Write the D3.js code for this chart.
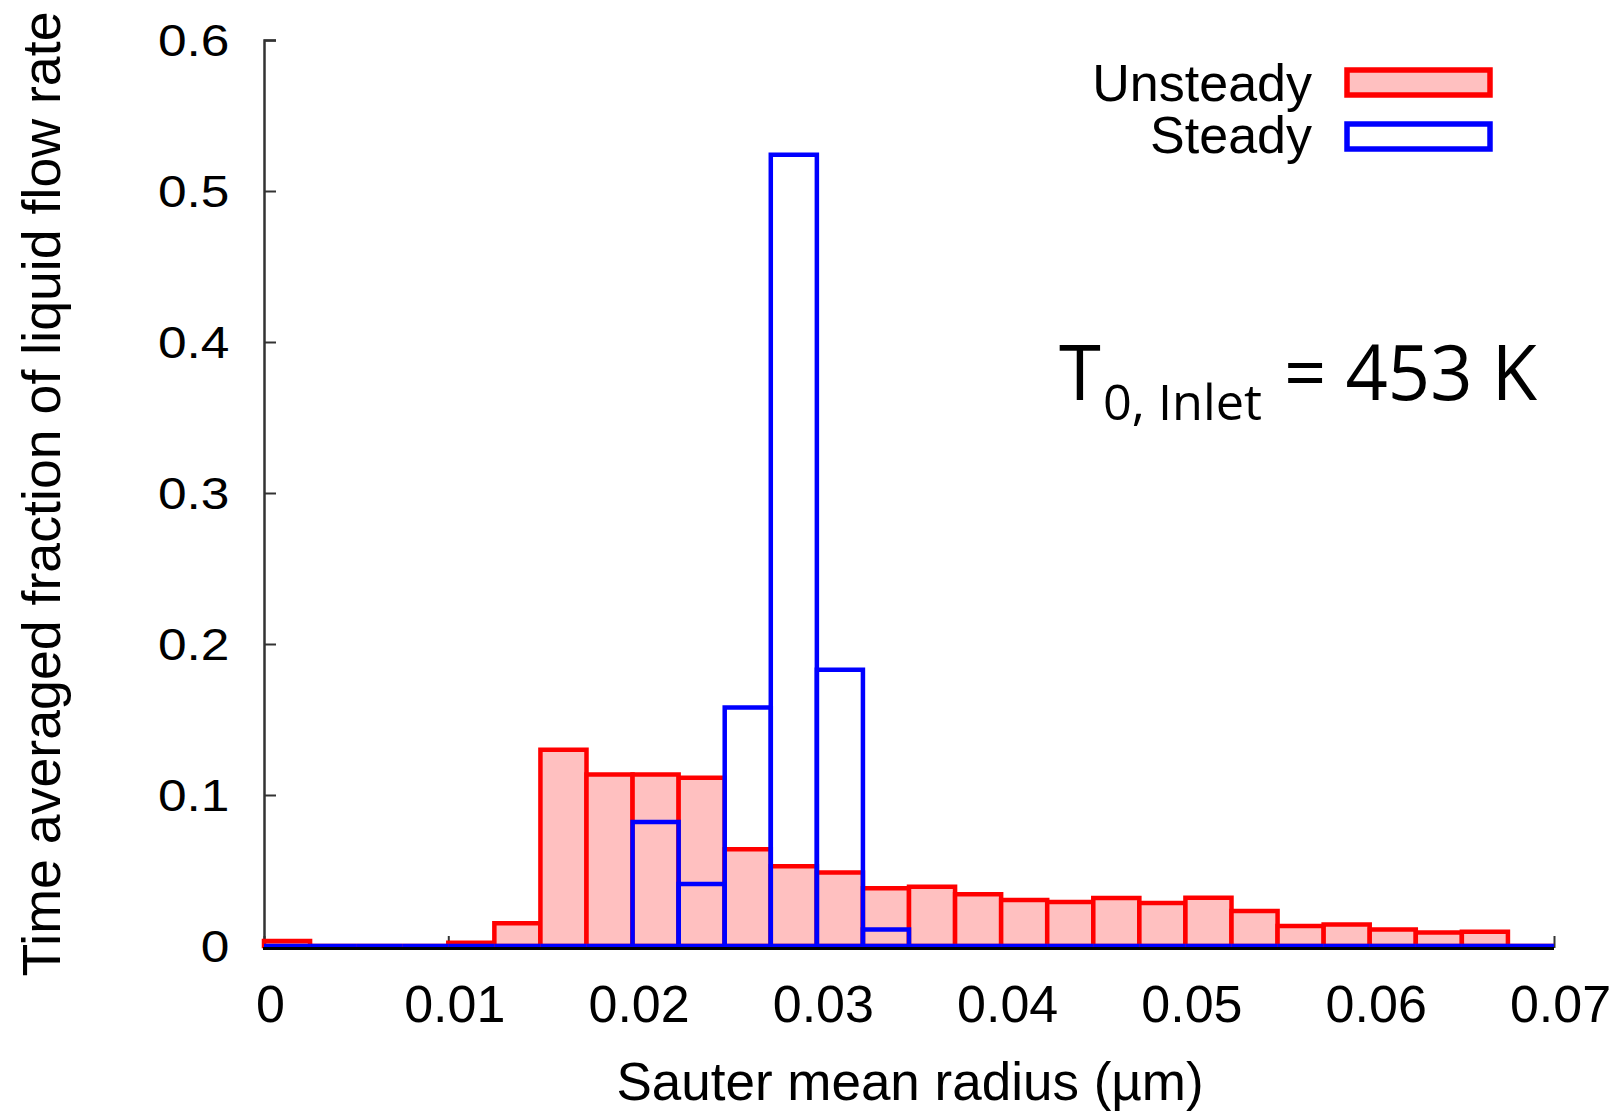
<!DOCTYPE html>
<html><head><meta charset="utf-8">
<script src="https://cdn.jsdelivr.net/npm/d3@7"></script>
<style>body{margin:0;background:#fff}svg{display:block}</style>
</head><body>
<svg id="c" width="1621" height="1112"></svg>
<script>
const binStarts = [0,0.0025,0.005,0.0075,0.01,0.0125,0.015,0.0175,0.02,0.0225,0.025,0.0275,0.03,0.0325,0.035,0.0375,0.04,0.0425,0.045,0.0475,0.05,0.0525,0.055,0.0575,0.06,0.0625,0.065,0.0675];
const binWidth = 0.0025;
const unsteady = [0.0033,0,0,0,0.0022,0.015,0.130,0.1135,0.1135,0.1115,0.064,0.0528,0.0486,0.0382,0.0393,0.0342,0.0305,0.0291,0.0318,0.0285,0.032,0.0232,0.0132,0.0143,0.011,0.009,0.0095,0];
const steady = [0,0,0,0,0,0,0,0,0.0821,0.041,0.158,0.524,0.183,0.011,0,0,0,0,0,0,0,0,0,0,0,0,0,0];
const xTicks = [0,0.01,0.02,0.03,0.04,0.05,0.06,0.07];
const yTicks = [0,0.1,0.2,0.3,0.4,0.5,0.6];
const seriesNames = ["Unsteady","Steady"];

const svg = d3.select("#c");
const x = d3.scaleLinear().domain([0,0.07]).range([264,1554]);
const y = d3.scaleLinear().domain([0,0.6]).range([946,40]);
const font = "'Liberation Sans', Arial, Helvetica, sans-serif";

// y axis
const ya = svg.append("g").attr("transform",`translate(${x(0)},0)`)
  .call(d3.axisLeft(y).tickValues(yTicks).tickSize(-12).tickFormat(d3.format("")));
ya.select(".domain").attr("stroke","#333").attr("stroke-width",2.5);
ya.selectAll(".tick line").attr("stroke","#333").attr("stroke-width",2);
ya.selectAll(".tick text").attr("x",-29.5).attr("dy",null).attr("y",15)
  .attr("transform","scale(1.17,1)")
  .attr("font-family",font).attr("font-size",44).attr("fill","#000");

// x axis ticks (under bars)
const xa = svg.append("g").attr("transform",`translate(0,${y(0)+2})`)
  .call(d3.axisBottom(x).tickValues(xTicks).tickSize(-12).tickFormat(d => d===0?"0":d3.format(".2f")(d)));
xa.select(".domain").remove();
xa.selectAll(".tick line").attr("stroke","#333").attr("stroke-width",2);
xa.selectAll(".tick text").attr("dy",null).attr("y",74).attr("x",6)
  .attr("font-family",font).attr("font-size",52).attr("fill","#000");

function barPath(x0, v){
  const a = x(x0), b = x(x0+binWidth), y0 = y(0), y1 = y(v);
  return `M${a},${y0}V${y1}H${b}V${y0}Z`;
}
svg.append("g").selectAll("path").data(binStarts).join("path")
  .attr("d",(d,i)=>barPath(d,unsteady[i]))
  .attr("fill","#ffc0c0").attr("stroke","#ff0000").attr("stroke-width",4.5)
  .attr("stroke-linejoin","miter");
svg.append("g").selectAll("path").data(binStarts).join("path")
  .attr("d",(d,i)=>barPath(d,steady[i]))
  .attr("fill","none").attr("stroke","#0000ff").attr("stroke-width",4.5)
  .attr("stroke-linejoin","miter");

// bottom axis line
svg.append("line").attr("x1",x(0)-1).attr("x2",x(0.07)).attr("y1",y(0)+2.5).attr("y2",y(0)+2.5)
  .attr("stroke","#000").attr("stroke-width",3);

// axis titles
svg.append("text").attr("transform",`translate(60,494) rotate(-90)`)
  .attr("text-anchor","middle").attr("font-family",font).attr("font-size",53)
  .attr("textLength",965).attr("lengthAdjust","spacingAndGlyphs")
  .text("Time averaged fraction of liquid flow rate");
svg.append("text").attr("x",910).attr("y",1100).attr("text-anchor","middle")
  .attr("font-family",font).attr("font-size",53).text("Sauter mean radius (µm)");

// legend
const leg = [{n:seriesNames[0],fill:"#ffc0c0",stroke:"#ff0000",yb:101,ry:70},
             {n:seriesNames[1],fill:"#ffffff",stroke:"#0000ff",yb:153,ry:124}];
leg.forEach(l=>{
  svg.append("text").attr("x",1312).attr("y",l.yb).attr("text-anchor","end")
    .attr("font-family",font).attr("font-size",52).text(l.n);
  svg.append("rect").attr("x",1347).attr("y",l.ry).attr("width",143).attr("height",25)
    .attr("fill",l.fill).attr("stroke",l.stroke).attr("stroke-width",5.5);
});

// annotation
const af = "'Open Sans', 'Noto Sans', sans-serif";
svg.append("text").attr("x",1059).attr("y",400).attr("font-family",af).attr("font-size",76).text("T");
svg.append("text").attr("x",1103).attr("y",420).attr("font-family",af).attr("font-size",50)
  .attr("textLength",159).attr("lengthAdjust","spacingAndGlyphs").text("0, Inlet");
svg.append("text").attr("x",1284).attr("y",400).attr("font-family",af).attr("font-size",77)
  .attr("textLength",253).attr("lengthAdjust","spacingAndGlyphs").text("= 453 K");
</script>
</body></html>
